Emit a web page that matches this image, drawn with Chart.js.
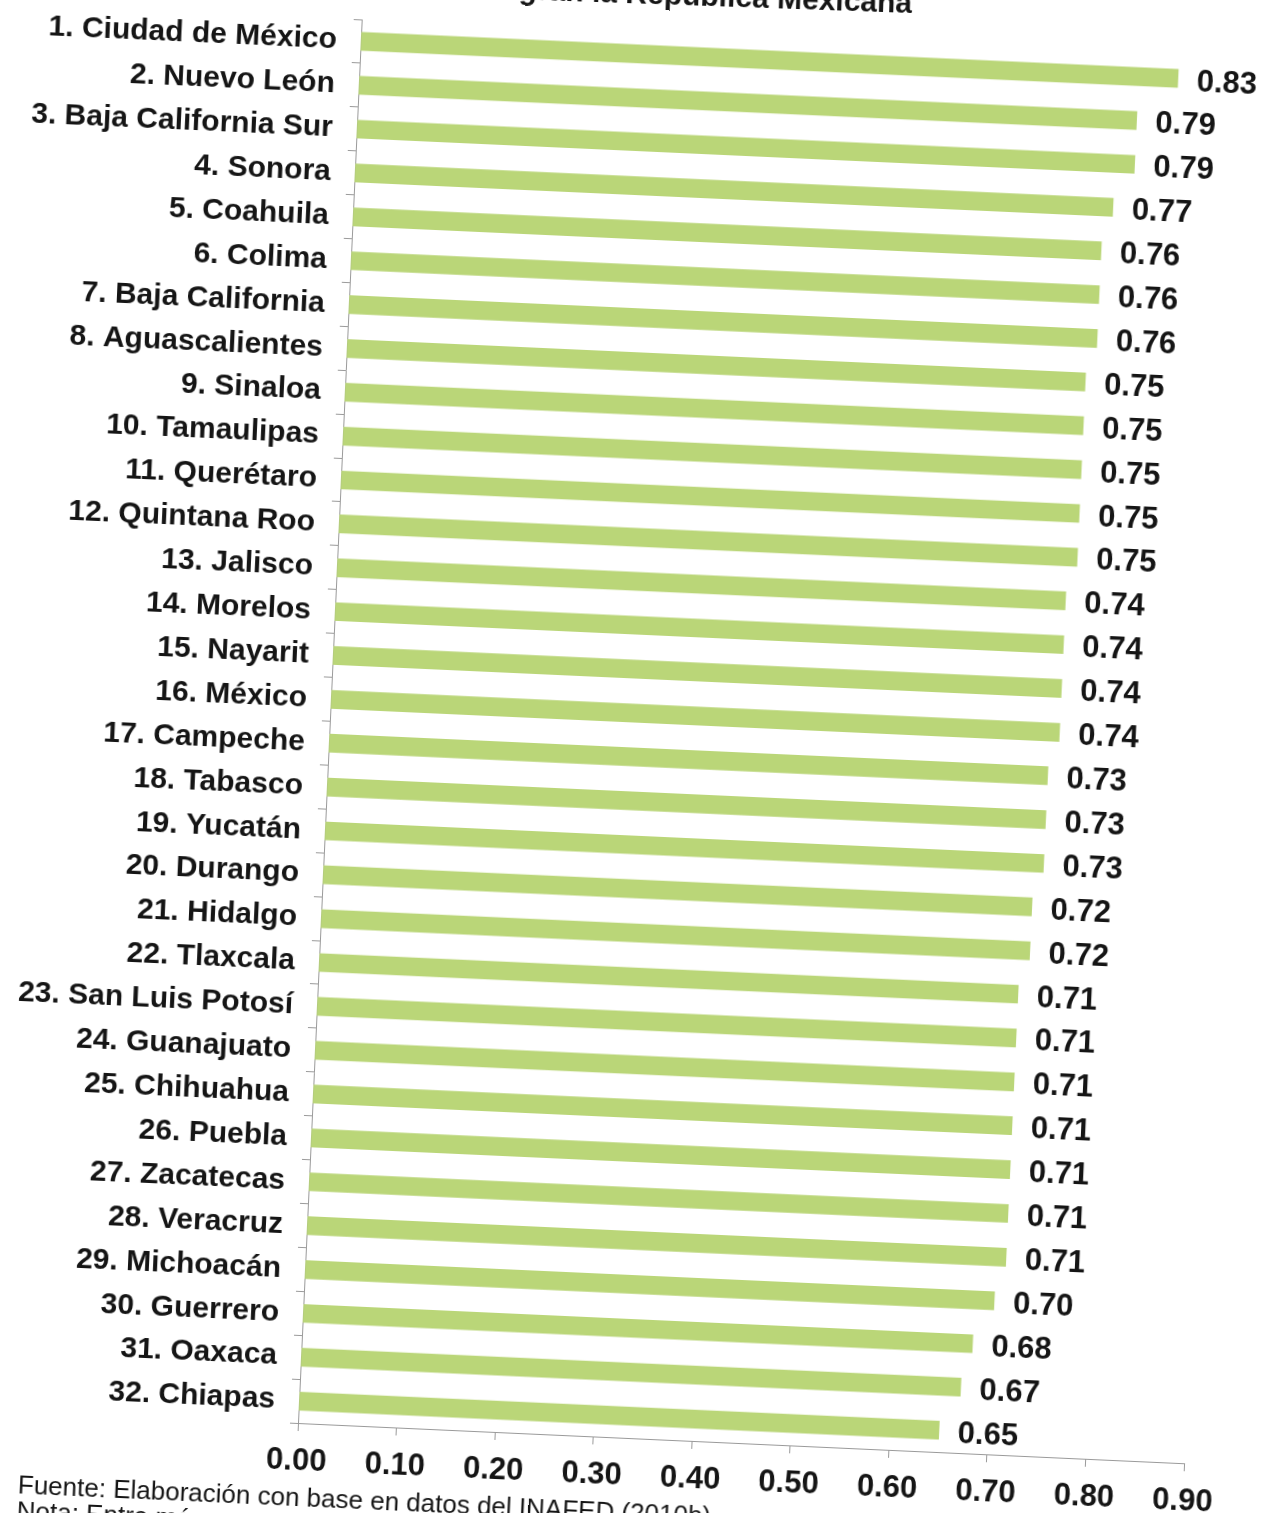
<!DOCTYPE html>
<html lang="es">
<head>
<meta charset="utf-8">
<title>República Mexicana</title>
<script src="https://cdn.jsdelivr.net/npm/chart.js@4/dist/chart.umd.min.js"></script>
<style>
  html, body { margin: 0; padding: 0; background: #fff; overflow: hidden; }
  body { width: 1261px; height: 1513px; position: relative; font-family: "Liberation Sans", Arial, sans-serif; color: #151515; }
  /* the original is a slightly tilted scan, so the whole sheet is turned a little */
  #sheet {
    position: absolute; left: 0; top: 0; width: 1261px; height: 1560px;
    transform: rotate(2.6deg); transform-origin: 298px 1423px;
  }
  #title {
    position: absolute; right: 349px; top: -12px; white-space: nowrap;
    font-weight: bold; font-size: 30px; line-height: 30px;
    transform: rotate(2deg); transform-origin: 100% 85%;
  }
  #chart { position: absolute; left: -120px; top: 0; }
  #note {
    position: absolute; left: 21px; top: 1484px; white-space: nowrap;
    font-size: 26px; line-height: 26px;
  }
</style>
</head>
<body>
<div id="sheet">
  <canvas id="chart" width="1381" height="1530"></canvas>
  <div id="note">Fuente: Elaboración con base en datos del INAFED (2010b).<br>Nota: Entre más cercano a 1</div>
</div>
<div id="title">integran la República Mexicana</div>
<script>
const states = [
  "1. Ciudad de México", "2. Nuevo León", "3. Baja California Sur", "4. Sonora",
  "5. Coahuila", "6. Colima", "7. Baja California", "8. Aguascalientes",
  "9. Sinaloa", "10. Tamaulipas", "11. Querétaro", "12. Quintana Roo",
  "13. Jalisco", "14. Morelos", "15. Nayarit", "16. México",
  "17. Campeche", "18. Tabasco", "19. Yucatán", "20. Durango",
  "21. Hidalgo", "22. Tlaxcala", "23. San Luis Potosí", "24. Guanajuato",
  "25. Chihuahua", "26. Puebla", "27. Zacatecas", "28. Veracruz",
  "29. Michoacán", "30. Guerrero", "31. Oaxaca", "32. Chiapas"
];
const scores = [
  0.83, 0.79, 0.79, 0.77, 0.76, 0.76, 0.76, 0.75,
  0.75, 0.75, 0.75, 0.75, 0.74, 0.74, 0.74, 0.74,
  0.73, 0.73, 0.73, 0.72, 0.72, 0.71, 0.71, 0.71,
  0.71, 0.71, 0.71, 0.71, 0.70, 0.68, 0.67, 0.65
];
const axisMin = 0;
const axisMax = 0.9;
const axisStep = 0.1;

const barColor = "#bad678";
const inkColor = "#151515";
const lineColor = "#9a9a9a";

Chart.defaults.font.family = '"Liberation Sans", Arial, sans-serif';
Chart.defaults.color = inkColor;

// no datalabels plugin offline, so write the numbers at the bar ends by hand
const valueLabels = {
  id: 'valueLabels',
  afterDatasetsDraw(chart) {
    const ctx = chart.ctx;
    const meta = chart.getDatasetMeta(0);
    ctx.save();
    ctx.font = 'bold 31px "Liberation Sans", Arial, sans-serif';
    ctx.fillStyle = inkColor;
    ctx.textAlign = 'left';
    ctx.textBaseline = 'middle';
    meta.data.forEach((bar, i) => {
      ctx.fillText(scores[i].toFixed(2), bar.x + 19, bar.y + 3);
    });
    ctx.restore();
  }
};

new Chart(document.getElementById('chart'), {
  type: 'bar',
  data: {
    labels: states,
    datasets: [{
      data: scores,
      backgroundColor: barColor,
      borderWidth: 0,
      barThickness: 18
    }]
  },
  options: {
    indexAxis: 'y',
    responsive: false,
    animation: false,
    layout: { padding: { top: 18, right: 76, left: 0, bottom: 0 } },
    plugins: {
      legend: { display: false },
      tooltip: { enabled: false }
    },
    scales: {
      y: {
        offset: true,
        grid: { display: true, drawOnChartArea: false, offset: true, tickLength: 8, color: lineColor },
        border: { display: true, color: lineColor, width: 1 },
        ticks: {
          autoSkip: false,
          padding: 16,
          color: inkColor,
          font: { size: 30, weight: 'bold' }
        },
        afterFit(axis) {
          axis.width = 418;
          // keep the label half-heights from pushing the plot area down
          axis.paddingTop = 0;
          axis.paddingBottom = 0;
        }
      },
      x: {
        min: axisMin,
        max: axisMax,
        grid: { display: true, drawOnChartArea: false, tickLength: 8, color: lineColor },
        border: { display: true, color: lineColor, width: 1 },
        ticks: {
          stepSize: axisStep,
          padding: 12,
          color: inkColor,
          font: { size: 31, weight: 'bold' },
          callback: v => Number(v).toFixed(2)
        },
        afterFit(axis) { axis.height = 107; }
      }
    }
  },
  plugins: [valueLabels]
});
</script>
</body>
</html>
